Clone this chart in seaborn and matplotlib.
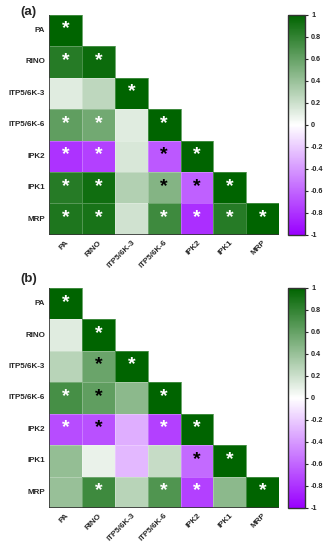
import numpy as np
import pandas as pd
import matplotlib
matplotlib.use("Agg")
import matplotlib.pyplot as plt
import seaborn as sns
from matplotlib.colors import LinearSegmentedColormap

sns.set_style("white")
plt.rcParams["font.family"] = ["Liberation Sans", "DejaVu Sans"]

labels = ["PA", "RINO", "ITP5/6K-3", "ITP5/6K-6", "IPK2", "IPK1", "MRP"]

# lower-triangle correlation values, row by row
corr_a = [
    [1.0],
    [0.85, 0.95],
    [0.12, 0.25, 1.0],
    [0.62, 0.55, 0.12, 1.0],
    [-0.80, -0.75, 0.15, -0.65, 1.0],
    [0.85, 0.93, 0.30, 0.48, -0.62, 1.0],
    [0.88, 0.90, 0.18, 0.75, -0.82, 0.85, 1.0],
]
corr_b = [
    [1.0],
    [0.12, 1.0],
    [0.28, 0.58, 1.0],
    [0.72, 0.62, 0.45, 1.0],
    [-0.70, -0.68, -0.32, -0.75, 1.0],
    [0.42, 0.08, -0.28, 0.22, -0.58, 1.0],
    [0.40, 0.75, 0.28, 0.68, -0.75, 0.45, 1.0],
]

# significance stars: w = white star, k = black star, "" = none
stars_a = [
    ["w"],
    ["w", "w"],
    ["", "", "w"],
    ["w", "w", "", "w"],
    ["w", "w", "", "k", "w"],
    ["w", "w", "", "k", "k", "w"],
    ["w", "w", "", "w", "w", "w", "w"],
]
stars_b = [
    ["w"],
    ["", "w"],
    ["", "k", "w"],
    ["w", "k", "", "w"],
    ["w", "k", "", "w", "w"],
    ["", "", "", "", "k", "w"],
    ["", "w", "", "w", "w", "", "w"],
]

cbar_ticks = [-1, -0.8, -0.6, -0.4, -0.2, 0, 0.2, 0.4, 0.6, 0.8, 1]
cbar_labels = ["-1", "-0.8", "-0.6", "-0.4", "-0.2", "0", "0.2", "0.4", "0.6", "0.8", "1"]


def to_frame(rows):
    n = len(labels)
    m = np.full((n, n), np.nan)
    for i, r in enumerate(rows):
        m[i, :len(r)] = r
    return pd.DataFrame(m, index=labels, columns=labels)


cmap = LinearSegmentedColormap.from_list("pg", ["#9900ff", "#ffffff", "#006400"])

fig = plt.figure(figsize=(3.34, 5.5), dpi=100)

# (tag, values, stars, axes bottom, tag top)
panels = [
    ("(a)", corr_a, stars_a, 0.573, 1 - 6 / 550),
    ("(b)", corr_b, stars_b, 0.0764, 1 - 273 / 550),
]

for tag, rows, stars, bottom, tag_y in panels:
    ax = fig.add_axes([0.147, bottom, 0.689, 0.40])
    cax = fig.add_axes([0.862, bottom, 0.051, 0.40])
    df = to_frame(rows)
    mask = np.triu(np.ones_like(df, dtype=bool), k=1)
    sns.heatmap(df, mask=mask, cmap=cmap, vmin=-1, vmax=1, ax=ax, cbar_ax=cax,
                linewidths=0.6, linecolor=(1, 1, 1, 0.25))
    for i, r in enumerate(stars):
        for j, s in enumerate(r):
            if s:
                ax.text(j + 0.5, i + 0.45, "*", ha="center", va="center",
                        color="white" if s == "w" else "black",
                        fontsize=14, fontweight="bold")
    ax.set_xticklabels(labels, rotation=45, ha="right", rotation_mode="anchor",
                       fontsize=5.8, fontweight="bold")
    ax.set_yticklabels(labels, rotation=0, fontsize=5.8, fontweight="bold")
    ax.tick_params(length=0, pad=3)
    ax.axvline(0, color="#333333", lw=1.2)
    ax.axhline(7, color="#333333", lw=1.2)
    cb = ax.collections[0].colorbar
    cb.set_ticks(cbar_ticks)
    cb.set_ticklabels(cbar_labels)
    cax.tick_params(labelsize=5.2, length=2.5, width=0.8, direction="out", pad=2)
    for t in cax.get_yticklabels():
        t.set_fontweight("bold")
    cb.outline.set_edgecolor("#333333")
    cb.outline.set_linewidth(1.0)
    fig.text(0.06, tag_y, tag, fontsize=9.5, fontweight="bold",
             ha="left", va="top")

fig.savefig("out.png", dpi=100)
